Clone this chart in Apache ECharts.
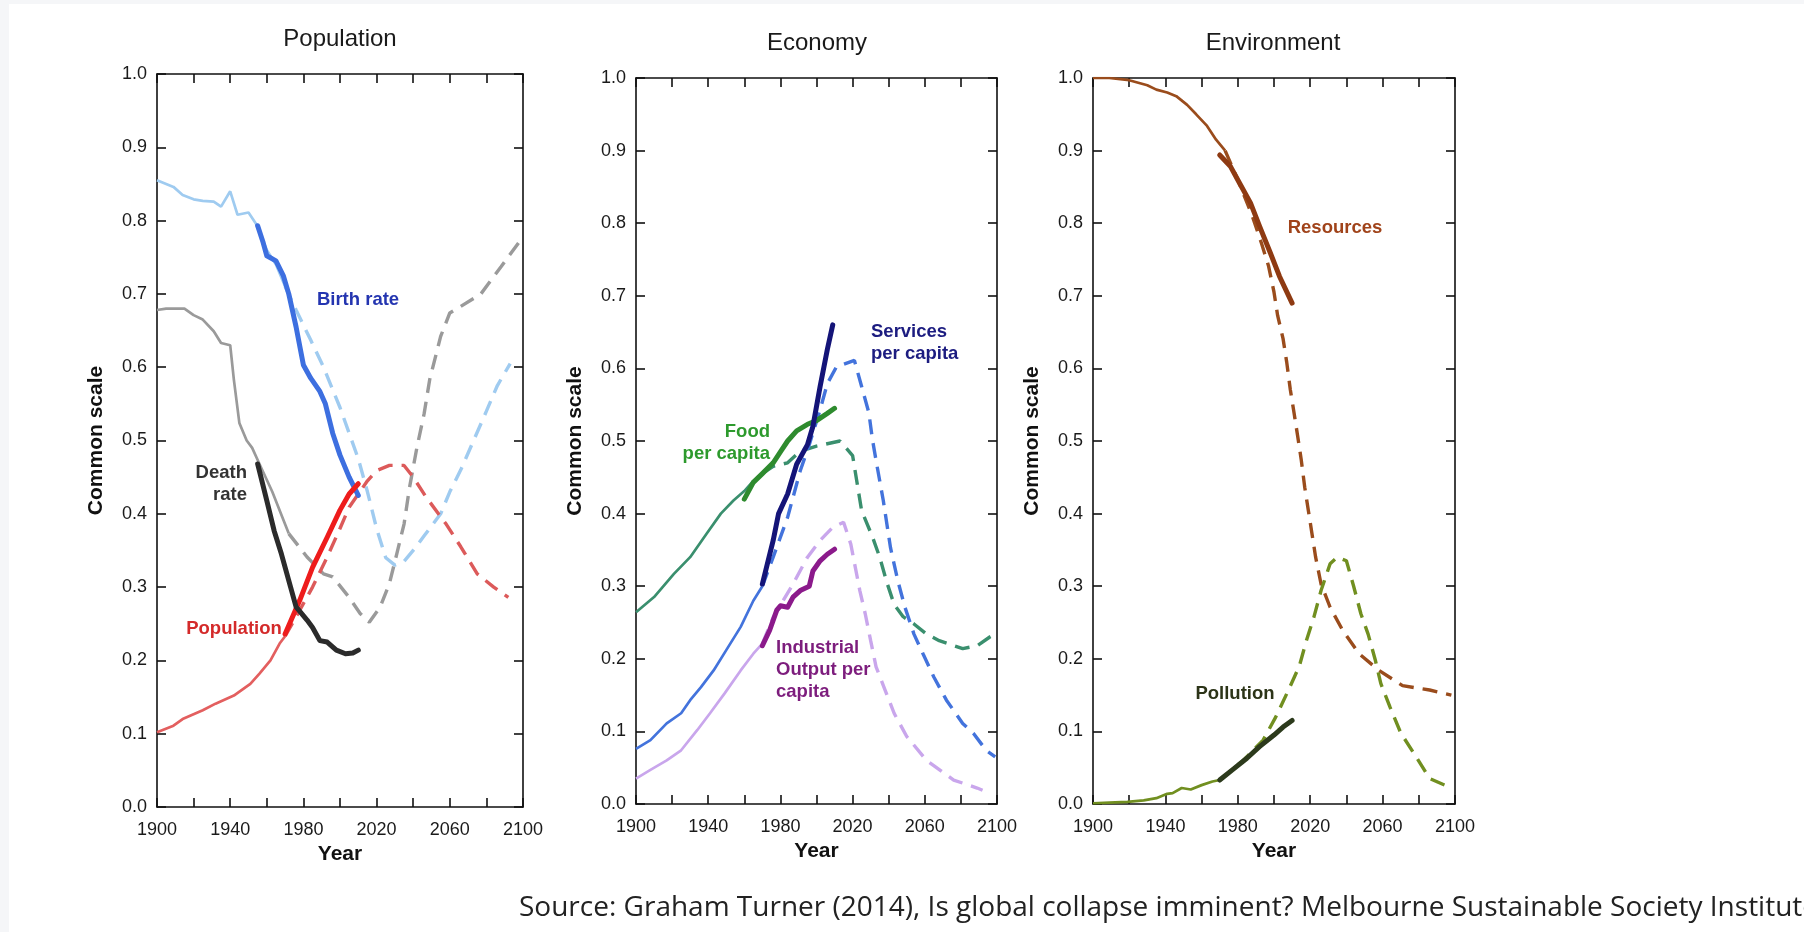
<!DOCTYPE html>
<html>
<head>
<meta charset="utf-8">
<script src="https://cdn.jsdelivr.net/npm/echarts@6/dist/echarts.min.js"></script>
<style>
html,body{margin:0;padding:0;background:#f5f6f8;}
#sheet{position:absolute;left:9px;top:4px;width:1795px;height:928px;background:#fff;}
#chart{position:absolute;left:0;top:0;width:1804px;height:932px;}
</style>
</head>
<body>
<div id="sheet"></div>
<div id="chart"></div>
<script>
// ---------- DATA (year, common-scale value) ----------
const xTickLabels = [1900, 1940, 1980, 2020, 2060, 2100];
const panelTitles = ['Population', 'Economy', 'Environment'];

// Population panel
const birthRateModel = [[1900,0.855],[1905,0.85],[1909,0.846],[1914,0.835],[1920,0.829],[1925,0.827],[1931,0.826],[1935,0.819],[1940,0.840],[1944,0.808],[1950,0.811],[1954,0.796],[1960,0.76],[1965,0.74],[1970,0.71],[1976,0.678],[1984,0.637],[1991,0.60],[2000,0.545],[2005,0.51],[2010,0.475],[2015,0.43],[2020,0.38],[2025,0.34],[2030,0.33],[2035,0.335],[2040,0.35],[2046,0.37],[2055,0.40],[2060,0.43],[2066,0.46],[2073,0.50],[2080,0.54],[2086,0.575],[2093,0.605]];
const birthRateData = [[1955,0.793],[1958,0.77],[1960,0.752],[1965,0.745],[1969,0.725],[1972,0.70],[1976,0.655],[1980,0.603],[1984,0.585],[1989,0.567],[1992,0.55],[1996,0.51],[2000,0.48],[2005,0.45],[2010,0.425]];
const deathRateModel = [[1900,0.678],[1905,0.68],[1915,0.68],[1920,0.671],[1925,0.665],[1931,0.649],[1935,0.633],[1940,0.63],[1942,0.583],[1945,0.524],[1949,0.50],[1952,0.49],[1956,0.468],[1963,0.43],[1972,0.373],[1982,0.341],[1991,0.318],[1996,0.314],[2005,0.286],[2011,0.264],[2016,0.252],[2022,0.273],[2027,0.305],[2031,0.345],[2035,0.386],[2038,0.436],[2042,0.49],[2046,0.537],[2049,0.583],[2055,0.642],[2060,0.674],[2066,0.683],[2077,0.70],[2088,0.737],[2100,0.778]];
const deathRateData = [[1955,0.468],[1960,0.418],[1964,0.377],[1968,0.345],[1973,0.30],[1976,0.273],[1982,0.255],[1985,0.245],[1989,0.227],[1993,0.225],[1998,0.214],[2003,0.209],[2007,0.21],[2010,0.214]];
const populationModel = [[1900,0.102],[1909,0.111],[1914,0.12],[1925,0.132],[1932,0.141],[1942,0.152],[1951,0.168],[1956,0.182],[1962,0.20],[1967,0.223],[1970,0.233],[1975,0.255],[1985,0.30],[1993,0.341],[2000,0.38],[2005,0.409],[2015,0.445],[2020,0.459],[2027,0.466],[2035,0.466],[2040,0.45],[2047,0.423],[2058,0.386],[2066,0.355],[2075,0.318],[2084,0.30],[2092,0.286]];
const populationData = [[1970,0.236],[1978,0.282],[1985,0.327],[1993,0.368],[2000,0.405],[2005,0.427],[2010,0.441]];

// Economy panel
const foodModel = [[1900,0.264],[1910,0.285],[1921,0.317],[1930,0.34],[1939,0.372],[1947,0.40],[1954,0.418],[1960,0.431],[1965,0.445],[1970,0.455],[1976,0.465],[1984,0.47],[1991,0.486],[2000,0.493],[2013,0.50],[2020,0.48],[2025,0.404],[2031,0.368],[2035,0.34],[2039,0.305],[2043,0.275],[2048,0.258],[2054,0.248],[2061,0.234],[2068,0.225],[2081,0.214],[2089,0.218],[2096,0.23],[2099,0.234]];
const foodData = [[1960,0.42],[1965,0.443],[1970,0.455],[1976,0.47],[1980,0.485],[1984,0.50],[1989,0.514],[1995,0.523],[2000,0.528],[2006,0.538],[2010,0.545]];
const servicesModel = [[1900,0.076],[1908,0.088],[1917,0.111],[1925,0.125],[1930,0.143],[1936,0.161],[1943,0.184],[1950,0.212],[1958,0.244],[1965,0.28],[1970,0.30],[1976,0.34],[1984,0.395],[1991,0.459],[1996,0.495],[2002,0.543],[2006,0.579],[2011,0.602],[2021,0.611],[2025,0.575],[2029,0.539],[2031,0.502],[2033,0.473],[2037,0.418],[2041,0.353],[2045,0.308],[2049,0.271],[2054,0.234],[2059,0.207],[2065,0.175],[2072,0.143],[2081,0.111],[2087,0.097],[2094,0.074],[2099,0.065]];
const servicesData = [[1970,0.303],[1976,0.363],[1979,0.40],[1984,0.427],[1989,0.468],[1995,0.495],[1998,0.52],[2002,0.575],[2006,0.626],[2009,0.66]];
const industryModel = [[1900,0.035],[1908,0.047],[1917,0.06],[1925,0.074],[1934,0.102],[1941,0.125],[1949,0.152],[1958,0.184],[1965,0.207],[1970,0.221],[1976,0.257],[1987,0.303],[1995,0.34],[2002,0.363],[2009,0.381],[2015,0.388],[2019,0.358],[2024,0.294],[2027,0.262],[2030,0.225],[2033,0.189],[2038,0.157],[2043,0.125],[2050,0.093],[2061,0.06],[2076,0.033],[2089,0.022],[2092,0.019]];
const industryData = [[1970,0.218],[1974,0.239],[1978,0.267],[1980,0.273],[1984,0.271],[1987,0.285],[1991,0.294],[1996,0.30],[1998,0.321],[2002,0.335],[2006,0.344],[2010,0.351]];

// Environment panel
const resourcesModel = [[1900,1.0],[1909,1.0],[1920,0.997],[1930,0.99],[1935,0.984],[1941,0.98],[1946,0.975],[1952,0.963],[1957,0.95],[1963,0.934],[1968,0.915],[1973,0.90],[1980,0.86],[1988,0.81],[1993,0.773],[1997,0.741],[2000,0.705],[2002,0.673],[2005,0.641],[2007,0.609],[2009,0.571],[2011,0.54],[2013,0.508],[2015,0.475],[2017,0.436],[2019,0.404],[2021,0.372],[2023,0.34],[2026,0.303],[2031,0.271],[2038,0.239],[2047,0.207],[2058,0.184],[2071,0.163],[2086,0.157],[2098,0.15]];
const resourcesData = [[1970,0.894],[1976,0.878],[1981,0.855],[1987,0.828],[1992,0.796],[1998,0.759],[2003,0.727],[2010,0.69]];
const pollutionModel = [[1900,0.001],[1909,0.002],[1919,0.003],[1928,0.005],[1935,0.008],[1941,0.014],[1944,0.015],[1949,0.022],[1954,0.02],[1960,0.026],[1966,0.031],[1970,0.033],[1983,0.06],[1994,0.088],[2001,0.12],[2008,0.157],[2014,0.19],[2018,0.226],[2022,0.257],[2026,0.294],[2031,0.331],[2035,0.34],[2040,0.335],[2044,0.30],[2048,0.262],[2052,0.234],[2056,0.198],[2059,0.166],[2064,0.134],[2070,0.098],[2078,0.067],[2086,0.035],[2098,0.022]];
const pollutionData = [[1970,0.033],[1977,0.047],[1985,0.063],[1992,0.079],[2000,0.095],[2005,0.106],[2010,0.115]];

// ---------- LAYOUT ----------
const FONT = '"Liberation Sans", Arial, sans-serif';
const grids = [
  {left:157, top:74, width:366, height:733},
  {left:636, top:78, width:361, height:726},
  {left:1093, top:78, width:362, height:726}
];

const xAxes = [], yAxes = [], series = [];
grids.forEach((g, i) => {
  const lineS = {color:'#111', width:1.6};
  const tick = {show:true, inside:true, length:9, lineStyle:{color:'#111', width:1.6}};
  xAxes.push({
    type:'value', gridIndex:i, min:1900, max:2100, interval:20, position:'bottom',
    axisLine:{show:true, onZero:false, lineStyle:lineS}, axisTick:tick, splitLine:{show:false},
    axisLabel:{margin:14, fontFamily:FONT, fontSize:18, color:'#1a1a1a',
      formatter:v => xTickLabels.includes(v) ? String(v) : ''},
    name:'Year', nameLocation:'middle', nameGap:37,
    nameTextStyle:{fontFamily:FONT, fontSize:21, fontWeight:'bold', color:'#111'}
  });
  xAxes.push({
    type:'value', gridIndex:i, min:1900, max:2100, interval:20, position:'top',
    axisLine:{show:true, onZero:false, lineStyle:lineS}, axisTick:tick, splitLine:{show:false},
    axisLabel:{show:false}
  });
  yAxes.push({
    type:'value', gridIndex:i, min:0, max:1, interval:0.1, position:'left',
    axisLine:{show:true, onZero:false, lineStyle:lineS}, axisTick:tick, splitLine:{show:false},
    axisLabel:{margin:10, fontFamily:FONT, fontSize:18, color:'#1a1a1a', formatter:v => v.toFixed(1)},
    name:'Common scale', nameLocation:'middle', nameGap:50,
    nameTextStyle:{fontFamily:FONT, fontSize:21, fontWeight:'bold', color:'#111'}
  });
  yAxes.push({
    type:'value', gridIndex:i, min:0, max:1, interval:0.1, position:'right',
    axisLine:{show:true, onZero:false, lineStyle:lineS}, axisTick:tick, splitLine:{show:false},
    axisLabel:{show:false}
  });
});

const DASH = [15, 9];
function addModel(panel, data, cut, color, dashColor) {
  series.push({type:'line', xAxisIndex:panel*2, yAxisIndex:panel*2, data:data.filter(d => d[0] <= cut),
    showSymbol:false, silent:true, lineStyle:{color:color, width:2.7}, z:2});
  series.push({type:'line', xAxisIndex:panel*2, yAxisIndex:panel*2, data:data.filter(d => d[0] >= cut),
    showSymbol:false, silent:true, lineStyle:{color:dashColor || color, width:3.4, type:DASH, cap:'butt'}, z:2});
}
function addData(panel, data, color) {
  series.push({type:'line', xAxisIndex:panel*2, yAxisIndex:panel*2, data:data,
    showSymbol:false, silent:true, lineStyle:{color:color, width:5, cap:'round', join:'round'}, z:3});
}

// Population
addModel(0, birthRateModel, 1970, '#9fcbf0');
addModel(0, deathRateModel, 1972, '#9a9a9a');
addModel(0, populationModel, 1970, '#e35f5f', '#dc5a5a');
addData(0, birthRateData, '#3d6fe0');
addData(0, populationData, '#ee1c1c');
addData(0, deathRateData, '#2b2b2b');
// Economy
addModel(1, foodModel, 1970, '#3a8f6e');
addModel(1, servicesModel, 1970, '#4373dc');
addModel(1, industryModel, 1970, '#c9a6ec');
addData(1, foodData, '#2e8b2e');
addData(1, industryData, '#8b1a8b');
addData(1, servicesData, '#141478');
// Environment
addModel(2, resourcesModel, 1973, '#9a4c1c');
addModel(2, pollutionModel, 1970, '#718f20');
addData(2, resourcesData, '#8e3a12');
addData(2, pollutionData, '#2c3a1c');

function label(text, x, y, color, align, size, weight) {
  return {type:'text', x:x, y:y, silent:true, z:10,
    style:{text:text, fill:color, font:(weight||'bold') + ' ' + (size||18.5) + 'px ' + FONT,
      textAlign:align || 'center', textVerticalAlign:'top', lineHeight:22}};
}
const graphics = [
  label(panelTitles[0], 340, 28, '#1a1a1a', 'center', 24, 'normal'),
  label(panelTitles[1], 817, 32, '#1a1a1a', 'center', 24, 'normal'),
  label(panelTitles[2], 1273, 32, '#1a1a1a', 'center', 24, 'normal'),
  label('Birth rate', 358, 289, '#2435b0', 'center'),
  label('Death\nrate', 247, 462, '#333333', 'right'),
  label('Population', 234, 618, '#d42a2a', 'center'),
  label('Services\nper capita', 871, 321, '#1c1c80', 'left'),
  label('Food\nper capita', 770, 421, '#2d9a2d', 'right'),
  label('Industrial\nOutput per\ncapita', 776, 637, '#7d1d7d', 'left'),
  label('Resources', 1335, 217, '#a0431a', 'center'),
  label('Pollution', 1235, 683, '#2c3418', 'center'),
  {type:'text', x:519, y:908, silent:true, z:10,
    style:{text:'Source: Graham Turner (2014), Is global collapse imminent? Melbourne Sustainable Society Institute',
      fill:'#222', font:'28px "Open Sans", sans-serif', textAlign:'left', textVerticalAlign:'middle'}}
];

const chart = echarts.init(document.getElementById('chart'), null, {renderer:'canvas'});
chart.setOption({
  backgroundColor:'transparent',
  animation:false,
  grid:grids,
  xAxis:xAxes,
  yAxis:yAxes,
  series:series,
  graphic:graphics
});
</script>
</body>
</html>
